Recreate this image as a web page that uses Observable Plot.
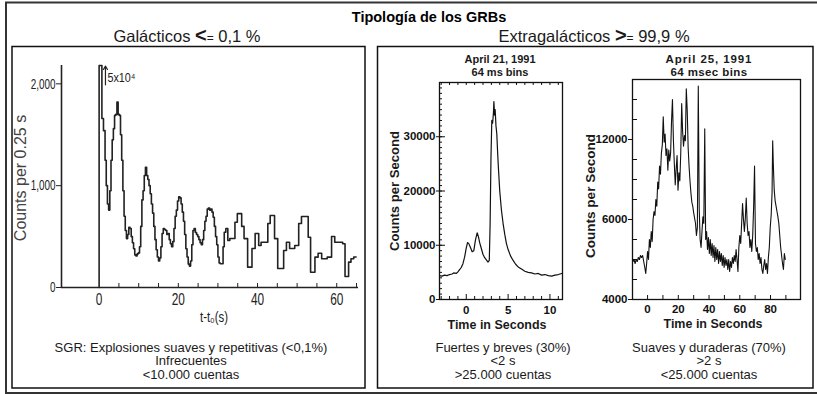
<!DOCTYPE html>
<html><head><meta charset="utf-8">
<script src="https://cdn.jsdelivr.net/npm/d3@7"></script>
<script src="https://cdn.jsdelivr.net/npm/@observablehq/plot@0.6"></script>
<style>
body{margin:0;background:#fff}
#fig{position:relative;width:817px;height:394px;overflow:hidden;background:#fff}
#fig svg{position:absolute;left:0;top:0}
</style></head><body><div id="fig"></div>
<script>
// ---------- DATA ----------
// Left panel: SGR light curve (step, counts per 0.25 s)
const sgrTime = [0,0,0.7,1.1,1.5,1.8,2.1,2.4,2.7,3.0,3.3,3.6,3.9,4.2,4.5,4.8,5.1,5.4,5.7,6.0,6.3,6.6,6.9,7.2,7.5,7.8,8.1,8.4,8.7,9.0,9.3,9.6,9.9,10.2,10.5,10.8,11.1,11.4,11.7,12.0,12.3,12.6,12.9,13.2,13.5,13.8,14.1,14.4,14.7,15.0,15.3,15.6,15.9,16.2,16.5,16.8,17.1,17.4,17.7,18.0,18.3,18.6,18.9,19.2,19.5,19.8,20.1,20.4,20.7,21.0,21.3,21.6,21.9,22.2,22.5,22.8,23.1,23.4,23.7,24.0,24.3,24.6,24.9,25.2,25.5,25.8,26.1,26.4,26.7,27.0,27.3,27.6,27.9,28.2,28.5,28.8,29.1,29.4,29.7,30.0,30.3,30.6,31.3,31.6,32.0,32.5,33.0,34.3,34.9,36.0,36.6,37.5,38.6,39.4,40.3,40.9,42.6,43.2,44.3,45.1,46.6,47.3,48.1,49.4,50.4,51.1,52.8,53.4,54.5,55.3,56.2,57.6,58.7,59.5,61.5,62.1,63.0,63.6,64.3,64.9];
const sgrCounts = [0,2180,1660,1540,1250,1000,820,760,950,1250,1450,1560,1690,1700,1820,1700,1690,1500,1250,950,700,560,480,520,590,580,500,440,380,320,310,330,340,400,600,860,950,1100,1180,1100,1060,1000,920,820,730,600,470,370,300,260,290,400,530,580,570,560,520,530,470,430,400,450,580,700,760,850,890,880,820,740,650,520,380,300,230,210,260,420,560,580,540,520,500,470,440,420,470,560,650,700,770,780,760,770,740,690,600,500,420,300,240,233,400,543,580,462,481,641,725,600,480,200,383,530,412,445,628,707,480,186,363,445,383,412,628,697,494,150,298,337,282,298,501,445,429,108,249,282,300,300];
const sgrYTicks = [0, 1000, 2000];
const sgrXTicks = [0, 20, 40, 60];
const sgrMinorTicks = [5,10,15,20,25,30,35,40,45,50,55,60,65];
const sgrNote = [{t: 2.1, count: 2035, label: "5x10\u2074", t1: 1.6, c1: 1990, c2: 2175}];

// Middle panel: April 21, 1991 (64 ms bins)
const shortTime = [-3.2,-2.9,-2.6,-2.3,-2.0,-1.7,-1.5,-1.2,-1.0,-0.8,-0.6,-0.4,-0.2,0.0,0.15,0.3,0.5,0.7,0.9,1.1,1.3,1.45,1.6,1.8,2.0,2.2,2.4,2.6,2.75,2.85,2.95,3.05,3.15,3.25,3.3,3.38,3.45,3.55,3.65,3.75,3.85,4.0,4.2,4.4,4.6,4.8,5.0,5.3,5.6,5.9,6.2,6.6,7.0,7.4,7.8,8.2,8.6,9.0,9.4,9.8,10.2,10.6,11.0,11.4];
const shortCounts = [4400,4300,4500,4400,4600,4700,4900,4800,5100,5500,5900,6600,7800,9500,10500,10300,9600,8800,9000,11000,12300,11600,10500,9400,8300,7700,7300,6900,7200,14000,26000,33000,32500,34500,36500,34000,35000,32000,30500,27000,24000,20000,16500,14000,12000,10300,9200,8000,7200,6500,6000,5600,5200,5000,4900,4700,4800,4500,4600,4400,4300,4500,4600,4800];
const shortYMajor = [0, 10000, 20000, 30000];
const shortYMinor = d3.range(1000, 40000, 1000);
const shortXMajor = [0, 5, 10];
const shortXMinor = [-3,-2,-1,1,2,3,4,6,7,8,9,11];

// Right panel: April 25, 1991 (64 msec bins)
const longTime = [-9.5,-8.8,-8.1,-7.4,-6.7,-6.0,-5.3,-4.6,-3.9,-3.2,-2.5,-1.8,-1.2,-0.6,0.0,0.6,1.2,1.8,2.4,3.0,3.6,4.2,4.8,5.4,6.0,6.6,7.2,7.8,8.4,9.0,9.6,10.2,10.8,11.4,12.0,12.6,13.2,13.8,14.4,15.0,15.6,16.2,16.8,17.4,18.0,18.6,19.2,19.8,20.4,21.0,21.6,22.2,22.8,23.4,24.0,24.6,25.2,25.8,26.4,27.0,27.6,28.2,28.8,29.4,30.0,30.6,31.2,31.8,32.4,33.0,33.6,34.2,34.8,35.4,36.0,36.6,37.2,37.8,38.4,39.0,39.6,40.2,40.8,41.4,42.0,42.6,43.2,43.8,44.4,45.0,45.6,46.2,46.8,47.4,48.0,48.6,49.2,49.8,50.4,51.0,51.6,52.2,52.8,53.4,54.0,54.6,55.2,55.8,56.4,57.0,57.6,58.2,58.8,59.4,60.0,60.6,61.2,61.8,62.4,63.0,63.6,64.2,64.8,65.4,66.0,66.6,67.2,67.8,68.4,69.0,69.6,70.2,70.8,71.4,72.0,72.6,73.2,73.8,74.4,75.0,75.6,76.2,76.8,77.4,78.0,78.6,79.2,79.8,80.4,81.0,81.4,81.8,82.4,83.0,83.6,84.2,84.8,85.4,86.0,86.6,87.2,87.8,88.4,89.0,89.6];
const longCounts = [4950,5000,4900,5000,4950,5050,5000,5100,5050,5100,4950,4800,4650,4900,5200,5000,5500,5300,5700,5450,6000,6600,6300,7500,7000,8800,8300,10000,9400,11000,11600,13700,11800,12400,10800,11300,9700,11200,10400,11000,13400,15000,12000,10200,8600,9800,10800,8200,9500,8900,11000,14700,12600,11500,12300,11900,15800,14200,11400,10000,8900,8000,7300,7000,6500,6100,5900,5600,5800,16000,6800,5500,5300,5700,6200,5900,12800,5500,5700,5250,5550,5150,5500,5100,5400,5050,5350,4950,5300,5000,5250,4900,5200,4950,5150,4850,5100,4800,5050,4850,5000,4750,5000,4700,4950,4800,5050,4900,5100,4950,5250,5000,4700,5300,5600,5400,5900,7200,6000,5700,6100,7600,5900,5600,5700,5300,5500,5200,5600,6900,10000,5400,5200,5300,5000,5150,4900,5050,4750,4650,4850,5000,4750,4900,4650,5050,5300,5800,6300,8000,11900,10200,8200,7400,7000,6600,6200,5900,5600,5300,5100,4900,4750,5150,5000];
const longYLabels = [4000, 6000, 12000];
const longYMinor = [4500, 5000, 5500, 7500, 9000, 10500, 13500, 15000];
const longYBreaks = [4000, 6000, 12000, 16500];
const longXTicks = [0, 20, 40, 60, 80];
const longXMinor = [0,10,20,30,40,50,60,70,80,90];

// ---------- LAYOUT ----------
const W = 817, H = 394;
const SANS = "'Liberation Sans', Arial, Helvetica, sans-serif";
const fig = d3.select("#fig");

// squeeze text horizontally (condensed look)
function squeeze(nodes, ratio) {
  nodes.forEach(el => {
    const L = el.getComputedTextLength();
    el.setAttribute("textLength", (L * ratio).toFixed(2));
    el.setAttribute("lengthAdjust", "spacingAndGlyphs");
  });
}

// background layer: frames and text
const bg = fig.append("svg").attr("width", W).attr("height", H);
bg.append("rect").attr("x", 6).attr("y", 2.5).attr("width", 830).attr("height", 390.5)
  .attr("fill", "none").attr("stroke", "#333").attr("stroke-width", 2);
bg.append("rect").attr("x", 12).attr("y", 46.5).attr("width", 353).attr("height", 341.5)
  .attr("fill", "none").attr("stroke", "#111").attr("stroke-width", 1.5);
bg.append("rect").attr("x", 377.5).attr("y", 46.5).attr("width", 435.5).attr("height", 341.5)
  .attr("fill", "none").attr("stroke", "#111").attr("stroke-width", 1.5);

function txt(x, y, s, o = {}) {
  const t = bg.append("text").attr("x", x).attr("y", y).attr("text-anchor", "middle")
    .attr("font-family", SANS).attr("font-size", o.size || 12)
    .attr("font-weight", o.weight || "normal").attr("fill", o.fill || "#1a1a1a");
  if (o.rotate) t.attr("x", 0).attr("y", 0).attr("transform", `translate(${x},${y}) rotate(-90)`);
  if (o.spacing) t.attr("letter-spacing", o.spacing);
  t.text(s);
  if (o.len) { t.attr("textLength", o.len).attr("lengthAdjust", "spacingAndGlyphs"); }
  return t;
}
txt(429, 22, "Tipología de los GRBs", {size: 14.5, weight: "bold", fill: "#000"});
const g1 = txt(187, 41.5, "Galácticos  ", {size: 16.5});
g1.append("tspan").attr("font-weight", "bold").attr("font-size", 20).text("<");
g1.append("tspan").attr("font-size", 12).text("=");
g1.append("tspan").text(" 0,1 %");
const g2 = txt(594, 41.5, "Extragalácticos  ", {size: 16.5});
g2.append("tspan").attr("font-weight", "bold").attr("font-size", 20).text(">");
g2.append("tspan").attr("font-size", 12).text("=");
g2.append("tspan").text(" 99,9 %");

// left panel labels
txt(26, 178, "Counts per 0.25 s", {size: 16, rotate: true, fill: "#444"});
txt(214, 322, "t-t\u2080(s)", {size: 14, len: 28});
txt(191, 351.5, "SGR: Explosiones suaves y repetitivas (<0,1%)", {size: 13});
txt(191, 365, "Infrecuentes", {size: 13});
txt(191, 378.5, "<10.000 cuentas", {size: 13});

// middle panel labels
txt(500, 63, "April 21, 1991", {size: 11.5, weight: "bold", len: 71});
txt(500, 75.5, "64 ms bins", {size: 11.5, weight: "bold", len: 57});
txt(399, 191, "Counts per Second", {size: 13, weight: "bold", rotate: true, len: 120});
txt(497, 329, "Time in Seconds", {size: 13, weight: "bold", len: 99});
txt(503, 351.5, "Fuertes y breves (30%)", {size: 13});
txt(503, 365, "<2 s", {size: 13});
txt(503, 378.5, ">25.000 cuentas", {size: 13});

// right panel labels
txt(709, 62.5, "April 25, 1991", {size: 11.5, weight: "bold", spacing: 0.9});
txt(709, 75.5, "64 msec bins", {size: 11.5, weight: "bold", spacing: 0.4});
txt(595, 196, "Counts per Second", {size: 13, weight: "bold", rotate: true, len: 124});
txt(713, 328, "Time in Seconds", {size: 13, weight: "bold", len: 99});
txt(709, 351.5, "Suaves y duraderas (70%)", {size: 13});
txt(709, 365, ">2 s", {size: 13});
txt(709, 378.5, "<25.000 cuentas", {size: 13});

// ---------- PLOTS ----------
const sgr = sgrTime.map((t, i) => ({t, c: sgrCounts[i]}));
const p1 = Plot.plot({
  width: W, height: H,
  marginLeft: 61, marginRight: W - 358, marginTop: 65, marginBottom: H - 287,
  x: {domain: [-9.5, 65.5], label: null},
  y: {domain: [0, 2180], label: null},
  style: {background: "none", fontFamily: SANS, fontSize: "13px", color: "#222", overflow: "visible"},
  marks: [
    Plot.ruleY([0], {stroke: "#222", strokeWidth: 1.6}),
    Plot.ruleX([-9.5], {stroke: "#222", strokeWidth: 1.6}),
    Plot.tickX(sgrMinorTicks, {x: d => d, insetTop: 222 - 4, stroke: "#222"}),
    Plot.axisY({ticks: sgrYTicks, tickSize: 5, tickPadding: 1, tickFormat: d3.format(","), label: null, fontSize: 15}),
    Plot.axisX({ticks: sgrXTicks, tickSize: 0, tickPadding: 6, label: null, fontSize: 16}),
    Plot.line(sgr, {x: "t", y: "c", curve: "step-after", stroke: "#222", strokeWidth: 1.6}),
    Plot.arrow(sgrNote, {x1: "t1", x2: "t1", y1: "c1", y2: "c2", headLength: 5, strokeWidth: 1.2, stroke: "#222"}),
    Plot.text(sgrNote, {x: "t", y: "count", text: "label", textAnchor: "start", fontSize: 12, dy: -2})
  ]
});
fig.node().appendChild(p1);
squeeze(Array.from(p1.querySelectorAll('g[aria-label="y-axis tick label"] text')), 0.66);
squeeze(Array.from(p1.querySelectorAll('g[aria-label="x-axis tick label"] text')), 0.74);
squeeze(Array.from(p1.querySelectorAll('g[aria-label="text"] text')), 0.9);

const shortData = shortTime.map((t, i) => ({t, c: shortCounts[i]}));
const w2 = 562 - 439, h2 = 299 - 82;
const p2 = Plot.plot({
  width: W, height: H,
  marginLeft: 439, marginRight: W - 562, marginTop: 82, marginBottom: H - 299,
  x: {domain: [-3.2, 11.5], label: null},
  y: {domain: [0, 40000], label: null},
  style: {background: "none", fontFamily: SANS, fontSize: "11.5px", fontWeight: "bold", color: "#111", overflow: "visible"},
  marks: [
    Plot.frame({stroke: "#111", strokeWidth: 1.3}),
    Plot.tickY(shortYMinor, {y: d => d, insetRight: w2 - 3, stroke: "#111"}),
    Plot.tickY(shortYMajor, {y: d => d, insetRight: w2 - 6, stroke: "#111"}),
    Plot.tickX(shortXMinor, {x: d => d, insetTop: h2 - 3, stroke: "#111"}),
    Plot.tickX(shortXMajor, {x: d => d, insetTop: h2 - 5, stroke: "#111"}),
    Plot.tickX(shortXMinor.concat(shortXMajor), {x: d => d, insetBottom: h2 - 3, stroke: "#111"}),
    Plot.axisY({ticks: shortYMajor, tickSize: 3, tickPadding: 1, tickFormat: d3.format("d"), label: null}),
    Plot.axisX({ticks: shortXMajor, tickSize: 0, tickPadding: 6, label: null}),
    Plot.line(shortData, {x: "t", y: "c", stroke: "#111", strokeWidth: 1.2})
  ]
});
fig.node().appendChild(p2);

const longData = longTime.map((t, i) => ({t, c: longCounts[i]}));
const w3 = 800 - 632, h3 = 299 - 79;
const p3 = Plot.plot({
  width: W, height: H,
  marginLeft: 632, marginRight: W - 800, marginTop: 79, marginBottom: H - 299,
  x: {domain: [-9.8, 99.5], label: null},
  y: {type: "linear", domain: longYBreaks, range: [299, 219, 139, 79], label: null},
  style: {background: "none", fontFamily: SANS, fontSize: "11.5px", fontWeight: "bold", color: "#111", overflow: "visible"},
  marks: [
    Plot.frame({stroke: "#111", strokeWidth: 1.3}),
    Plot.tickY(longYMinor, {y: d => d, insetRight: w3 - 5, stroke: "#111"}),
    Plot.tickX(longXMinor, {x: d => d, insetTop: h3 - 4, stroke: "#111"}),
    Plot.axisY({ticks: longYLabels, tickSize: 4, tickPadding: 1, tickFormat: d3.format("d"), label: null}),
    Plot.axisX({ticks: longXTicks, tickSize: 0, tickPadding: 5, label: null}),
    Plot.line(longData, {x: "t", y: "c", stroke: "#111", strokeWidth: 1.1})
  ]
});
fig.node().appendChild(p3);
</script></body></html>
